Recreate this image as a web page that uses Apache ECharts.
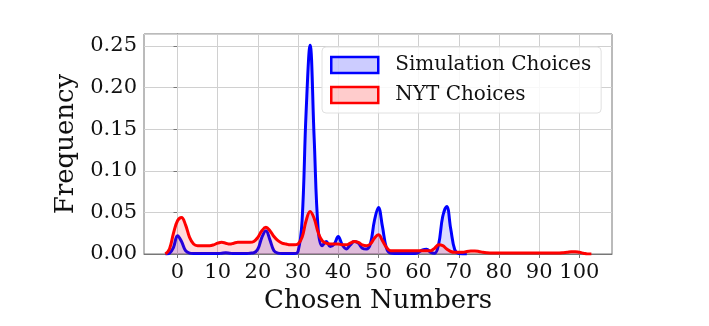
<!DOCTYPE html>
<html>
<head>
<meta charset="utf-8">
<script src="https://cdn.jsdelivr.net/npm/echarts@6/dist/echarts.min.js"></script>
<style>
  html, body { margin: 0; padding: 0; background: #fff; }
  #main { width: 709px; height: 326px; }
</style>
</head>
<body>
<div id="main"></div>
<script>
    // sample grid: x = xStart, xStart + 1, ...
    let xStart = -3;
    let xTicks = [0, 10, 20, 30, 40, 50, 60, 70, 80, 90, 100];

    // Simulation Choices (density, x = -3 .. 72)
    let simValues = [
        0, 0.001, 0.008, 0.022, 0.015, 0.004, 0.001, 0.0005, 0.0005, 0.0005,
        0.0005, 0.0005, 0.0005, 0.0005, 0.001, 0.0015, 0.001, 0.0005, 0.0005, 0.0005,
        0.0005, 0.001, 0.0015, 0.006, 0.02, 0.028, 0.017, 0.004, 0.001, 0.0005,
        0.0005, 0.0005, 0.0005, 0.003, 0.04, 0.17, 0.251, 0.14, 0.03, 0.01,
        0.015, 0.009, 0.012, 0.021, 0.011, 0.006, 0.011, 0.015, 0.013, 0.007,
        0.006, 0.012, 0.04, 0.056, 0.033, 0.007, 0.001, 0.0005, 0.0005, 0.0005,
        0.0005, 0.0005, 0.0005, 0.002, 0.005, 0.0056, 0.002, 0.001, 0.012, 0.045,
        0.057, 0.03, 0.005, 0.0005, 0, 0
    ];

    // NYT Choices (x = -3 .. 103)
    let nytValues = [
        0, 0.006, 0.025, 0.040, 0.044, 0.035, 0.020, 0.012, 0.010, 0.010,
        0.010, 0.010, 0.011, 0.013, 0.014, 0.013, 0.012, 0.013, 0.014, 0.014,
        0.014, 0.014, 0.015, 0.020, 0.028, 0.032, 0.028, 0.021, 0.016, 0.013,
        0.012, 0.011, 0.011, 0.012, 0.020, 0.040, 0.051, 0.043, 0.026, 0.016,
        0.013, 0.012, 0.012, 0.012, 0.011, 0.011, 0.013, 0.015, 0.014, 0.011,
        0.010, 0.012, 0.019, 0.023, 0.016, 0.008, 0.004, 0.004, 0.004, 0.004,
        0.004, 0.004, 0.004, 0.004, 0.004, 0.004, 0.004, 0.007, 0.011, 0.010,
        0.006, 0.003, 0.002, 0.002, 0.002, 0.003, 0.0035, 0.0036, 0.003, 0.002,
        0.0015, 0.0013, 0.0012, 0.0012, 0.0012, 0.0012, 0.0012, 0.0012, 0.0012, 0.0012,
        0.0012, 0.0012, 0.0012, 0.0012, 0.0012, 0.0012, 0.0012, 0.0012, 0.0012, 0.0015,
        0.002, 0.0027, 0.0028, 0.002, 0.001, 0, 0
    ];

    function toPairs(values) {
        return values.map(function (v, i) { return [xStart + i, v]; });
    }

    let serif = 'DejaVu Serif';
    let myChart = echarts.init(document.getElementById('main'), null, {renderer: 'canvas'});

    myChart.setOption({
        animation: false,
        backgroundColor: '#fff',
        textStyle: {fontFamily: serif},
        grid: {
            left: 144, right: 97, top: 34, bottom: 72,
            show: true, borderColor: '#777', borderWidth: 1
        },
        legend: {
            orient: 'vertical',
            left: 322, top: 47,
            padding: [8, 10, 8, 8],
            itemGap: 10,
            itemWidth: 47, itemHeight: 16,
            backgroundColor: 'rgba(255,255,255,0.85)',
            borderColor: '#e0e0e0', borderWidth: 1, borderRadius: 4,
            textStyle: {fontFamily: serif, fontSize: 20, color: '#111', padding: [0, 0, 0, 12]},
            data: [
                {name: 'Simulation Choices', icon: 'rect',
                 itemStyle: {color: 'rgba(0,0,255,0.2)', borderColor: '#0000ff', borderWidth: 2.5}},
                {name: 'NYT Choices', icon: 'rect',
                 itemStyle: {color: 'rgba(255,0,0,0.2)', borderColor: '#ff0000', borderWidth: 2.5}}
            ]
        },
        xAxis: {
            type: 'value',
            min: -8.34, max: 108.13,
            name: 'Chosen Numbers',
            nameLocation: 'middle',
            nameGap: 33,
            nameTextStyle: {fontFamily: serif, fontSize: 26, color: '#111'},
            axisLine: {onZero: false, lineStyle: {color: '#777'}},
            axisTick: {show: true, length: 4, customValues: xTicks, lineStyle: {color: '#777'}},
            axisLabel: {customValues: xTicks, fontFamily: serif, fontSize: 21, color: '#111', margin: 8},
            splitLine: {show: false}
        },
        yAxis: {
            type: 'value',
            min: 0, max: 0.2644, interval: 0.05,
            name: 'Frequency',
            nameLocation: 'middle',
            nameGap: 64,
            nameTextStyle: {fontFamily: serif, fontSize: 26, color: '#111'},
            axisLine: {show: true, lineStyle: {color: '#777'}},
            axisTick: {show: true, length: 4, lineStyle: {color: '#777'}},
            axisLabel: {
                fontFamily: serif, fontSize: 21, color: '#111', margin: 7,
                showMaxLabel: false,
                formatter: function (v) { return v.toFixed(2); }
            },
            splitLine: {show: true, lineStyle: {color: '#d0d0d0', width: 1}}
        },
        series: [
            {
                name: 'Simulation Choices',
                type: 'line',
                data: toPairs(simValues),
                smooth: 0.4,
                showSymbol: false,
                z: 3,
                lineStyle: {color: '#0000ff', width: 3},
                itemStyle: {color: '#0000ff'},
                areaStyle: {color: 'rgba(0,0,255,0.2)', origin: 'start'},
                // vertical grid lines at the tick values
                markLine: {
                    silent: true, symbol: 'none', label: {show: false},
                    lineStyle: {color: '#d0d0d0', width: 1, type: 'solid'},
                    data: xTicks.map(function (t) { return {xAxis: t}; }),
                    z: 1
                }
            },
            {
                name: 'NYT Choices',
                type: 'line',
                data: toPairs(nytValues),
                smooth: 0.4,
                showSymbol: false,
                z: 4,
                lineStyle: {color: '#ff0000', width: 3},
                itemStyle: {color: '#ff0000'},
                areaStyle: {color: 'rgba(255,0,0,0.2)', origin: 'start'}
            }
        ]
    });
</script>
</body>
</html>
